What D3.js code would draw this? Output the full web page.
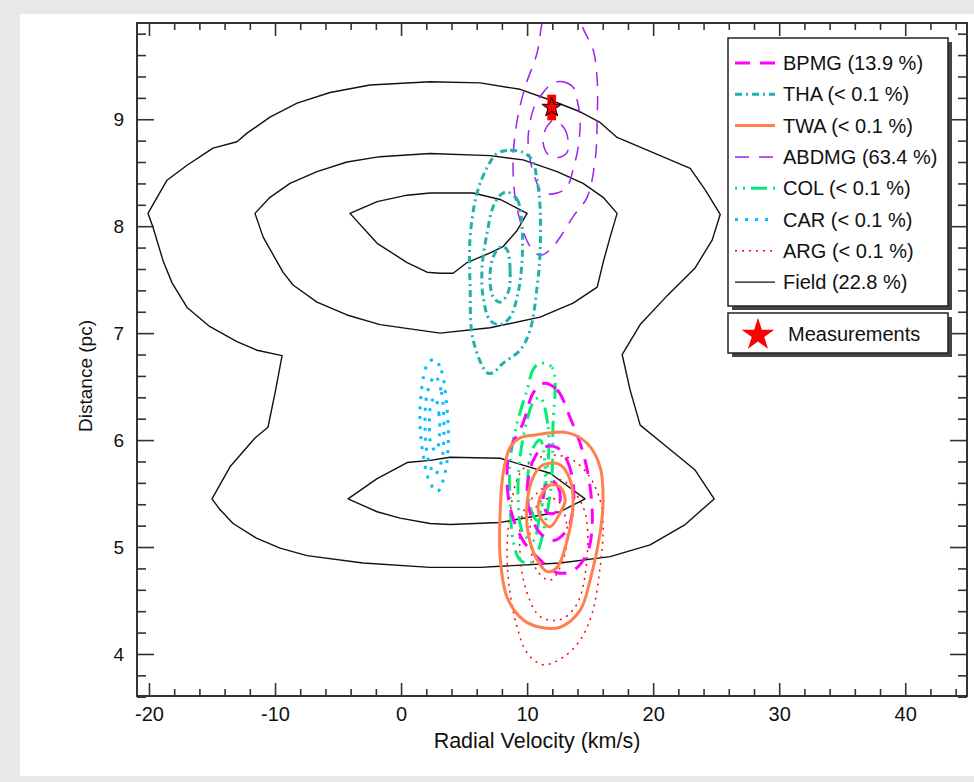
<!DOCTYPE html>
<html>
<head>
<meta charset="utf-8">
<script src="https://cdn.jsdelivr.net/npm/d3@7"></script>
<style>
body { margin: 0; background: #e8e8e8; }
svg { display: block; }
text { font-family: "Liberation Sans", Arial, Helvetica, sans-serif; fill: #111; }
</style>
</head>
<body>
<script>
// legend order
var groupNames = ["BPMG", "THA", "TWA", "ABDMG", "COL", "CAR", "ARG", "Field"];
var groupProbs = ["13.9 %", "< 0.1 %", "< 0.1 %", "63.4 %", "< 0.1 %", "< 0.1 %", "< 0.1 %", "22.8 %"];

var xMajor = [-20, -10, 0, 10, 20, 30, 40];
var yMajor = [4, 5, 6, 7, 8, 9];

// measured RV (km/s) and distance (pc) with errors
var measRV = 11.95, measRVerr = 0.35;
var measDist = 9.11, measDistErr = 0.12;

// contour vertices [rv, dist], outer -> inner
var fieldContours = [
  [[-20.08,8.12],[-18.57,8.43],[-16.98,8.57],[-14.92,8.73],[-13.02,8.79],[-12.22,8.87],[-10.4,9.02],[-8.25,9.15],[-5.63,9.25],[-2.46,9.32],[2.3,9.35],[6.27,9.34],[9.44,9.28],[11.83,9.18],[14.21,9.07],[15.79,8.97],[17.14,8.83],[18.97,8.74],[22.94,8.54],[24.13,8.34],[25.32,8.11],[24.68,7.87],[23.33,7.61],[21.19,7.36],[18.97,7.08],[17.54,6.80],[18.17,6.47],[18.97,6.14],[20.95,5.95],[23.33,5.72],[24.84,5.45],[22.54,5.21],[19.76,5.02],[16.59,4.91],[12.62,4.85],[6.27,4.81],[2.3,4.81],[-3.02,4.85],[-7.46,4.92],[-9.6,4.99],[-11.43,5.08],[-13.33,5.22],[-14.37,5.35],[-15.0,5.45],[-13.57,5.75],[-11.59,6.02],[-10.56,6.12],[-10.0,6.44],[-9.44,6.79],[-11.43,6.84],[-13.02,6.92],[-15.16,7.06],[-16.98,7.24],[-18.17,7.47],[-18.89,7.68],[-19.68,7.99]],
  [[-11.59,8.12],[-10.4,8.27],[-8.81,8.40],[-6.67,8.51],[-4.29,8.60],[-1.67,8.65],[2.3,8.68],[7.06,8.66],[9.68,8.62],[12.38,8.51],[14.44,8.40],[16.03,8.27],[17.14,8.12],[16.59,7.90],[16.03,7.66],[15.56,7.43],[13.65,7.28],[11.03,7.15],[7.06,7.05],[3.1,7.0],[-1.67,7.08],[-4.29,7.17],[-6.67,7.29],[-8.57,7.45],[-9.37,7.57],[-10.95,7.90]],
  [[-4.05,8.12],[-1.9,8.23],[0.48,8.29],[2.3,8.31],[5.71,8.31],[7.86,8.25],[10.0,8.12],[9.21,7.96],[8.1,7.81],[7.06,7.75],[5.24,7.66],[4.13,7.56],[3.1,7.56],[2.06,7.57],[0.48,7.66],[-1.9,7.84]],
  [[-4.21,5.45],[-1.9,5.64],[0.48,5.79],[2.3,5.81],[3.89,5.84],[7.86,5.83],[11.83,5.69],[14.6,5.45],[12.62,5.33],[7.86,5.23],[3.89,5.21],[2.3,5.22],[-0.08,5.27],[-1.9,5.33]]
];

var bpmgContours = [
  [[11.27,6.53],[12.38,6.47],[13.41,6.21],[14.37,5.91],[15.0,5.56],[15.16,5.19],[14.76,4.94],[13.65,4.78],[12.38,4.76],[11.03,4.88],[9.68,5.06],[8.65,5.37],[8.41,5.69],[8.65,5.91],[9.68,6.16],[10.48,6.44]],
  [[12.38,5.93],[13.17,5.81],[13.65,5.60],[13.65,5.37],[13.17,5.16],[12.06,5.06],[11.03,5.13],[10.24,5.32],[10.0,5.53],[10.48,5.81],[11.27,5.93]],
  [[11.83,5.63],[12.46,5.56],[12.62,5.44],[12.22,5.32],[11.59,5.32],[11.27,5.44],[11.43,5.56]]
];

var thaContours = [
  [[7.62,8.68],[8.65,8.71],[9.68,8.69],[10.4,8.62],[10.79,8.43],[11.03,8.18],[11.03,7.75],[10.79,7.43],[10.24,7.03],[9.44,6.84],[8.10,6.72],[7.30,6.63],[6.83,6.63],[5.71,6.94],[5.48,7.43],[5.48,7.90],[6.03,8.31],[6.83,8.55]],
  [[8.41,8.32],[9.21,8.25],[9.60,7.99],[9.60,7.68],[9.29,7.38],[8.65,7.15],[7.86,7.08],[7.06,7.12],[6.51,7.34],[6.43,7.62],[6.83,7.94],[7.30,8.18],[7.86,8.29]],
  [[8.41,7.78],[8.65,7.59],[8.49,7.38],[7.86,7.29],[7.30,7.34],[7.06,7.56],[7.46,7.75],[8.02,7.81]]
];

var twaContours = [
  [[10.79,6.05],[13.17,6.07],[14.76,5.97],[15.79,5.75],[16.03,5.44],[15.79,5.13],[15.0,4.69],[14.21,4.41],[12.62,4.25],[11.03,4.25],[9.68,4.32],[8.41,4.53],[7.86,4.91],[7.86,5.32],[8.10,5.69],[8.65,5.93],[9.44,6.02]],
  [[11.59,5.78],[12.62,5.77],[13.41,5.63],[13.65,5.41],[13.17,5.06],[12.38,4.81],[11.59,4.77],[10.79,4.88],[10.08,5.13],[10.0,5.41],[10.40,5.63],[11.03,5.75]],
  [[11.83,5.58],[12.62,5.56],[13.02,5.44],[12.62,5.32],[11.83,5.19],[11.19,5.25],[10.87,5.37],[11.19,5.50]]
];

var abdmgContours = [
  [[10.79,9.62],[11.3,9.95],[12.0,10.1],[13.5,10.15],[14.44,9.85],[15.24,9.65],[15.56,9.37],[15.56,8.99],[15.40,8.62],[14.76,8.27],[13.65,8.09],[12.86,7.94],[11.83,7.78],[11.03,7.73],[10.24,7.81],[9.60,7.99],[9.05,8.27],[8.89,8.62],[9.21,8.99],[9.84,9.30]],
  [[12.38,9.35],[12.86,9.35],[13.65,9.30],[13.97,9.18],[14.21,8.99],[14.05,8.74],[13.65,8.53],[13.17,8.37],[12.38,8.31],[11.27,8.31],[10.79,8.40],[10.24,8.62],[10.08,8.83],[10.48,9.09],[11.03,9.21],[11.83,9.32]],
  [[12.06,8.99],[12.86,8.93],[13.25,8.81],[13.17,8.69],[12.38,8.64],[11.67,8.67],[11.27,8.78],[11.43,8.90],[11.83,8.97]]
];

var colContours = [
  [[11.03,6.72],[11.98,6.68],[12.22,6.53],[12.06,6.16],[11.98,5.69],[11.59,5.32],[10.79,4.94],[10.24,4.85],[9.44,4.88],[8.89,5.06],[8.65,5.44],[8.65,5.81],[9.21,6.16],[10.0,6.47],[10.48,6.66]],
  [[11.03,6.40],[11.67,6.12],[11.59,5.69],[11.03,5.32],[10.48,5.06],[9.68,5.13],[9.29,5.44],[9.44,5.84],[10.0,6.19],[10.48,6.35]],
  [[11.03,6.0],[11.43,5.75],[11.27,5.44],[10.79,5.25],[10.24,5.37],[10.08,5.69],[10.40,5.91]]
];

var carContours = [
  [[2.7,6.75],[3.2,6.65],[3.6,6.35],[3.75,6.0],[3.5,5.7],[2.9,5.52],[2.3,5.6],[1.7,5.9],[1.5,6.25],[1.8,6.6],[2.2,6.73]],
  [[2.7,6.6],[3.2,6.45],[3.4,6.1],[3.2,5.8],[2.7,5.68],[2.2,5.8],[1.9,6.1],[2.1,6.45]],
  [[2.7,6.4],[3.0,6.25],[3.05,6.05],[2.8,5.9],[2.4,5.95],[2.25,6.15],[2.4,6.35]]
];

var argContours = [
  [[11.03,5.84],[13.17,5.84],[14.76,5.69],[15.79,5.44],[16.03,5.19],[15.79,4.81],[15.16,4.38],[14.21,4.13],[12.86,3.97],[11.27,3.90],[10.0,4.01],[9.21,4.25],[8.65,4.57],[8.41,4.94],[8.65,5.32],[9.44,5.69]],
  [[12.62,5.63],[13.65,5.53],[14.6,5.32],[14.76,4.91],[13.97,4.47],[12.62,4.32],[11.03,4.35],[10.0,4.57],[9.44,4.94],[9.68,5.32],[11.03,5.53]],
  [[12.38,5.44],[13.17,5.19],[12.86,4.88],[11.83,4.69],[10.79,4.78],[10.24,5.06],[10.48,5.32],[11.27,5.44]]
];

var contours = {
  "BPMG": bpmgContours, "THA": thaContours, "TWA": twaContours, "ABDMG": abdmgContours,
  "COL": colContours, "CAR": carContours, "ARG": argContours, "Field": fieldContours
};

// line styles
var styles = {
  "BPMG":  {color: "#ff00ff", width: 3,   dash: "15,10"},
  "THA":   {color: "#20b2aa", width: 3,   dash: "7,4,2,4"},
  "TWA":   {color: "#ff7f50", width: 3,   dash: null},
  "ABDMG": {color: "#a020f0", width: 1.5, dash: "14,10"},
  "COL":   {color: "#00ee76", width: 3,   dash: "2,6,2,6,16,6"},
  "CAR":   {color: "#00bfff", width: 3,   dash: "3,7"},
  "ARG":   {color: "#ff0000", width: 1.5, dash: "2,5"},
  "Field": {color: "#111111", width: 1.4, dash: null}
};

var width = 974, height = 782;
var margin = {left: 137, right: 967, top: 23, bottom: 696};

var x = d3.scaleLinear().domain([-20.95, 44.9]).range([margin.left, margin.right]);
var y = d3.scaleLinear().domain([3.607, 9.9]).range([margin.bottom, margin.top]);

var svg = d3.select("body").append("svg")
    .attr("width", width)
    .attr("height", height);

// white page
svg.append("rect")
    .attr("x", 20).attr("y", 14)
    .attr("width", width - 20).attr("height", 762)
    .attr("fill", "#ffffff");

svg.append("clipPath").attr("id", "plotclip")
  .append("rect")
    .attr("x", margin.left).attr("y", margin.top)
    .attr("width", margin.right - margin.left)
    .attr("height", margin.bottom - margin.top);

var plot = svg.append("g").attr("clip-path", "url(#plotclip)");

var fieldLine = d3.line()
    .x(function(d) { return x(d[0]); })
    .y(function(d) { return y(d[1]); })
    .curve(d3.curveLinearClosed);

var groupLine = d3.line()
    .x(function(d) { return x(d[0]); })
    .y(function(d) { return y(d[1]); })
    .curve(d3.curveCatmullRomClosed.alpha(0.5));

// field first, moving groups on top
var drawOrder = ["Field", "ABDMG", "THA", "CAR", "ARG", "COL", "BPMG", "TWA"];
drawOrder.forEach(function(name) {
    var s = styles[name];
    plot.append("g").attr("class", "grp-" + name)
      .selectAll("path")
      .data(contours[name])
      .enter().append("path")
        .attr("d", name === "Field" ? fieldLine : groupLine)
        .attr("fill", "none")
        .attr("stroke", s.color)
        .attr("stroke-width", s.width)
        .attr("stroke-dasharray", s.dash)
        .attr("stroke-linejoin", "round");
});

// measurement: error box + star
plot.append("rect")
    .attr("x", x(measRV - measRVerr))
    .attr("y", y(measDist + measDistErr))
    .attr("width", x(measRV + measRVerr) - x(measRV - measRVerr))
    .attr("height", y(measDist - measDistErr) - y(measDist + measDistErr))
    .attr("fill", "#ff0000");

plot.append("path")
    .attr("d", d3.symbol(d3.symbolStar).size(120)())
    .attr("transform", "translate(" + x(measRV) + "," + y(measDist) + ")")
    .attr("fill", "#ff0000")
    .attr("stroke", "#000")
    .attr("stroke-width", 1);

// axes, ticks inside on all four sides
var axisColor = "#333";
var xMinor = d3.range(-20, 45, 2).filter(function(v) { return v % 10 !== 0; });
var yMinor = d3.range(36, 100, 2).map(function(v) { return v / 10; }).filter(function(v) { return Math.abs(v - Math.round(v)) > 1e-6; });
var plain = function(d) { return String(d); };

function styleAxis(size) {
    return function(g) {
        g.select(".domain").remove();
        g.selectAll(".tick line").attr("stroke", axisColor).attr("stroke-width", 1.6);
        g.selectAll(".tick text").attr("fill", "#111").style("font-size", size + "px")
          .style("font-family", "'Liberation Sans', Arial, sans-serif");
    };
}

svg.append("g").attr("transform", "translate(0," + margin.bottom + ")")
    .call(d3.axisBottom(x).tickValues(xMajor).tickSize(-13).tickPadding(11).tickFormat(plain))
    .call(styleAxis(20));
svg.append("g").attr("transform", "translate(0," + margin.bottom + ")")
    .call(d3.axisBottom(x).tickValues(xMinor).tickSize(-7).tickFormat(""))
    .call(styleAxis(20));
svg.append("g").attr("transform", "translate(0," + margin.top + ")")
    .call(d3.axisTop(x).tickValues(xMajor).tickSize(-13).tickFormat(""))
    .call(styleAxis(20));
svg.append("g").attr("transform", "translate(0," + margin.top + ")")
    .call(d3.axisTop(x).tickValues(xMinor).tickSize(-7).tickFormat(""))
    .call(styleAxis(20));

svg.append("g").attr("transform", "translate(" + margin.left + ",0)")
    .call(d3.axisLeft(y).tickValues(yMajor).tickSize(-17).tickPadding(13).tickFormat(plain))
    .call(styleAxis(19));
svg.append("g").attr("transform", "translate(" + margin.left + ",0)")
    .call(d3.axisLeft(y).tickValues(yMinor).tickSize(-9).tickFormat(""))
    .call(styleAxis(19));
svg.append("g").attr("transform", "translate(" + margin.right + ",0)")
    .call(d3.axisRight(y).tickValues(yMajor).tickSize(-17).tickFormat(""))
    .call(styleAxis(19));
svg.append("g").attr("transform", "translate(" + margin.right + ",0)")
    .call(d3.axisRight(y).tickValues(yMinor).tickSize(-9).tickFormat(""))
    .call(styleAxis(19));

svg.append("rect")
    .attr("x", margin.left).attr("y", margin.top)
    .attr("width", margin.right - margin.left)
    .attr("height", margin.bottom - margin.top)
    .attr("fill", "none")
    .attr("stroke", axisColor)
    .attr("stroke-width", 2);

svg.append("text")
    .attr("x", 537).attr("y", 741)
    .attr("text-anchor", "middle")
    .attr("dominant-baseline", "central")
    .style("font-size", "21.5px")
    .text("Radial Velocity (km/s)");

svg.append("text")
    .attr("transform", "translate(85,376) rotate(-90)")
    .attr("text-anchor", "middle")
    .attr("dominant-baseline", "central")
    .style("font-size", "19px")
    .text("Distance (pc)");

// legend
var lg = {x: 728, y: 38, w: 220, h: 268, row0: 63, step: 31.3};

svg.append("rect")
    .attr("x", lg.x + 4).attr("y", lg.y + 4).attr("width", lg.w).attr("height", lg.h)
    .attr("fill", "#444");
svg.append("rect")
    .attr("x", lg.x).attr("y", lg.y).attr("width", lg.w).attr("height", lg.h)
    .attr("fill", "#fff").attr("stroke", "#222").attr("stroke-width", 1.5);

var rows = svg.append("g").selectAll("g")
    .data(groupNames)
    .enter().append("g")
    .attr("transform", function(d, i) { return "translate(" + lg.x + "," + (lg.row0 + i * lg.step) + ")"; });

rows.append("line")
    .attr("x1", 7).attr("x2", 47).attr("y1", 0).attr("y2", 0)
    .attr("stroke", function(d) { return styles[d].color; })
    .attr("stroke-width", function(d) { return styles[d].width; })
    .attr("stroke-dasharray", function(d) { return styles[d].dash; });

rows.append("text")
    .attr("x", 55).attr("y", 0)
    .attr("dominant-baseline", "central")
    .style("font-size", "20px")
    .text(function(d, i) { return d + " (" + groupProbs[i] + ")"; });

var mb = {x: 728, y: 313, w: 220, h: 40};
svg.append("rect")
    .attr("x", mb.x + 4).attr("y", mb.y + 4).attr("width", mb.w).attr("height", mb.h)
    .attr("fill", "#444");
svg.append("rect")
    .attr("x", mb.x).attr("y", mb.y).attr("width", mb.w).attr("height", mb.h)
    .attr("fill", "#fff").attr("stroke", "#222").attr("stroke-width", 1.5);
svg.append("path")
    .attr("d", d3.symbol(d3.symbolStar).size(330)())
    .attr("transform", "translate(" + (mb.x + 30) + "," + (mb.y + 22) + ")")
    .attr("fill", "#ff0000");
svg.append("text")
    .attr("x", mb.x + 60).attr("y", mb.y + 21)
    .attr("dominant-baseline", "central")
    .style("font-size", "20px")
    .text("Measurements");
</script>
</body>
</html>
